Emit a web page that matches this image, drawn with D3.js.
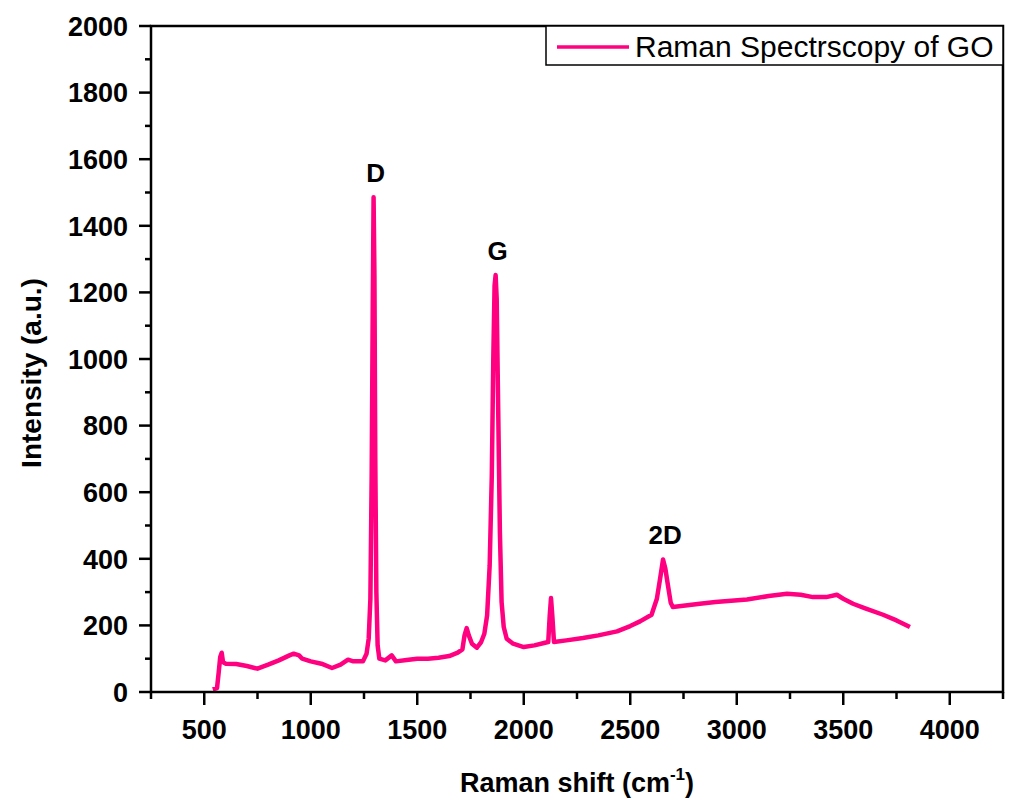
<!DOCTYPE html>
<html>
<head>
<meta charset="utf-8">
<script src="https://cdn.jsdelivr.net/npm/d3@7"></script>
<style>
  body { margin: 0; background: #fff; }
  text { font-family: "Liberation Sans", Arial, sans-serif; }
</style>
</head>
<body>
<div id="chart"></div>
<script>
/*
*   Raman spectrum of graphene oxide
*/

// data
var ramanShift = [540, 560, 568, 575, 582, 588, 600, 650, 700, 750, 800, 850, 900, 920, 945, 960,
  1000, 1050, 1100, 1140, 1175, 1200, 1245, 1262, 1272, 1280, 1286, 1291, 1295, 1299, 1303, 1308,
  1314, 1322, 1350, 1380, 1400, 1450, 1500, 1550, 1600, 1650, 1690, 1712, 1722, 1732, 1742, 1757,
  1780, 1800, 1815, 1828, 1840, 1850, 1857, 1863, 1868, 1873, 1880, 1888, 1896, 1906, 1920, 1950,
  2000, 2050, 2100, 2115, 2122, 2128, 2134, 2142, 2200, 2278, 2350, 2438, 2500, 2546, 2600, 2625,
  2640, 2654, 2665, 2677, 2690, 2700, 2827, 2900, 3048, 3150, 3236, 3300, 3358, 3420, 3470, 3500,
  3546, 3600, 3687, 3750, 3813]
var intensity = [8, 12, 60, 105, 118, 90, 85, 84, 78, 70, 82, 95, 110, 115, 110, 100,
  92, 85, 72, 82, 97, 92, 92, 115, 160, 280, 650, 1150, 1486, 1250, 700, 300,
  140, 100, 95, 110, 92, 96, 100, 100, 103, 108, 118, 128, 170, 192, 170, 145,
  133, 150, 175, 230, 380, 650, 1000, 1220, 1252, 1180, 850, 480, 270, 195, 160, 145,
  135, 140, 148, 150, 230, 282, 230, 150, 155, 162, 170, 182, 198, 212, 232, 280,
  340, 398, 370, 320, 268, 255, 265, 270, 278, 288, 295, 292, 285, 285, 292, 280,
  265, 252, 232, 215, 195]

var peakNames = ["D", "G", "2D"]
var peakShift = [1295, 1868, 2654]
var peakHeight = [1486, 1252, 398]

var xMajor = [500, 1000, 1500, 2000, 2500, 3000, 3500, 4000]
var xMinor = [250, 750, 1250, 1750, 2250, 2750, 3250, 3750, 4250]
var yMajor = [0, 200, 400, 600, 800, 1000, 1200, 1400, 1600, 1800, 2000]
var yMinor = [100, 300, 500, 700, 900, 1100, 1300, 1500, 1700, 1900]

var seriesName = "Raman Spectrscopy of GO"
var lineColor = "#ff0080"

var WD = 1011, HT = 801
var margin = { left: 151, right: 8, top: 26, bottom: 109 }

var svg = d3.select("#chart").append("svg")
    .attr("width", WD)
    .attr("height", HT)

var xs = d3.scaleLinear().domain([250, 4250]).range([margin.left, WD - margin.right])
var ys = d3.scaleLinear().domain([0, 2000]).range([HT - margin.bottom, margin.top])

var x0 = xs.range()[0], x1 = xs.range()[1]
var y0 = ys.range()[0], y1 = ys.range()[1]

// spectrum
var data = ramanShift.map(function(d, i) { return { x: d, y: intensity[i] } })
var line = d3.line()
    .x(function(d) { return xs(d.x) })
    .y(function(d) { return ys(d.y) })

svg.append("path")
    .datum(data)
    .attr("d", line)
    .attr("fill", "none")
    .attr("stroke", lineColor)
    .attr("stroke-width", 4.5)
    .attr("stroke-linejoin", "round")

// x axis ticks
var gx = svg.append("g").attr("class", "x axis")
gx.selectAll(".major").data(xMajor).enter().append("line")
    .attr("x1", d => xs(d)).attr("x2", d => xs(d))
    .attr("y1", y0).attr("y2", y0 + 13)
    .attr("stroke", "#000").attr("stroke-width", 2.5)
gx.selectAll(".minor").data(xMinor).enter().append("line")
    .attr("x1", d => xs(d)).attr("x2", d => xs(d))
    .attr("y1", y0).attr("y2", y0 + 7)
    .attr("stroke", "#000").attr("stroke-width", 2.5)
gx.selectAll("text").data(xMajor).enter().append("text")
    .attr("x", d => xs(d))
    .attr("y", y0 + 47)
    .attr("text-anchor", "middle")
    .attr("font-size", "27px")
    .attr("font-weight", "bold")
    .text(d => d)

// y axis ticks
var gy = svg.append("g").attr("class", "y axis")
gy.selectAll(".major").data(yMajor).enter().append("line")
    .attr("x1", x0 - 12).attr("x2", x0)
    .attr("y1", d => ys(d)).attr("y2", d => ys(d))
    .attr("stroke", "#000").attr("stroke-width", 2.5)
gy.selectAll(".minor").data(yMinor).enter().append("line")
    .attr("x1", x0 - 6).attr("x2", x0)
    .attr("y1", d => ys(d)).attr("y2", d => ys(d))
    .attr("stroke", "#000").attr("stroke-width", 2.5)
gy.selectAll("text").data(yMajor).enter().append("text")
    .attr("x", x0 - 23)
    .attr("y", d => ys(d))
    .attr("dy", "0.36em")
    .attr("text-anchor", "end")
    .attr("font-size", "27px")
    .attr("font-weight", "bold")
    .text(d => d)

// frame
svg.append("rect")
    .attr("x", x0).attr("y", y1)
    .attr("width", x1 - x0).attr("height", y0 - y1)
    .attr("fill", "none")
    .attr("stroke", "#000")
    .attr("stroke-width", 2.5)

// peak labels
svg.selectAll(".peak").data(peakNames).enter().append("text")
    .attr("class", "peak")
    .attr("x", (d, i) => xs(peakShift[i]) + 2)
    .attr("y", (d, i) => ys(peakHeight[i]) - 15)
    .attr("text-anchor", "middle")
    .attr("font-size", "26px")
    .attr("font-weight", "bold")
    .text(d => d)

// axis titles
var xt = svg.append("text")
    .attr("x", (x0 + x1) / 2)
    .attr("y", 792)
    .attr("text-anchor", "middle")
    .attr("font-size", "27px")
    .attr("font-weight", "bold")
xt.append("tspan").text("Raman shift (cm")
xt.append("tspan").attr("dy", -12).attr("font-size", "17px").text("-1")
xt.append("tspan").attr("dy", 12).text(")")

svg.append("text")
    .attr("transform", "translate(41," + 373 + ") rotate(-90)")
    .attr("text-anchor", "middle")
    .attr("font-size", "28px")
    .attr("font-weight", "bold")
    .text("Intensity (a.u.)")

// legend
var lg = svg.append("g").attr("class", "legend")
lg.append("rect")
    .attr("x", 546).attr("y", y1)
    .attr("width", x1 - 546).attr("height", 39)
    .attr("fill", "#fff")
    .attr("stroke", "#000")
    .attr("stroke-width", 1.5)
lg.append("line")
    .attr("x1", 557).attr("x2", 629)
    .attr("y1", 47).attr("y2", 47)
    .attr("stroke", lineColor)
    .attr("stroke-width", 3.5)
lg.append("text")
    .attr("x", 635).attr("y", 57)
    .attr("font-size", "30px")
    .text(seriesName)
</script>
</body>
</html>
